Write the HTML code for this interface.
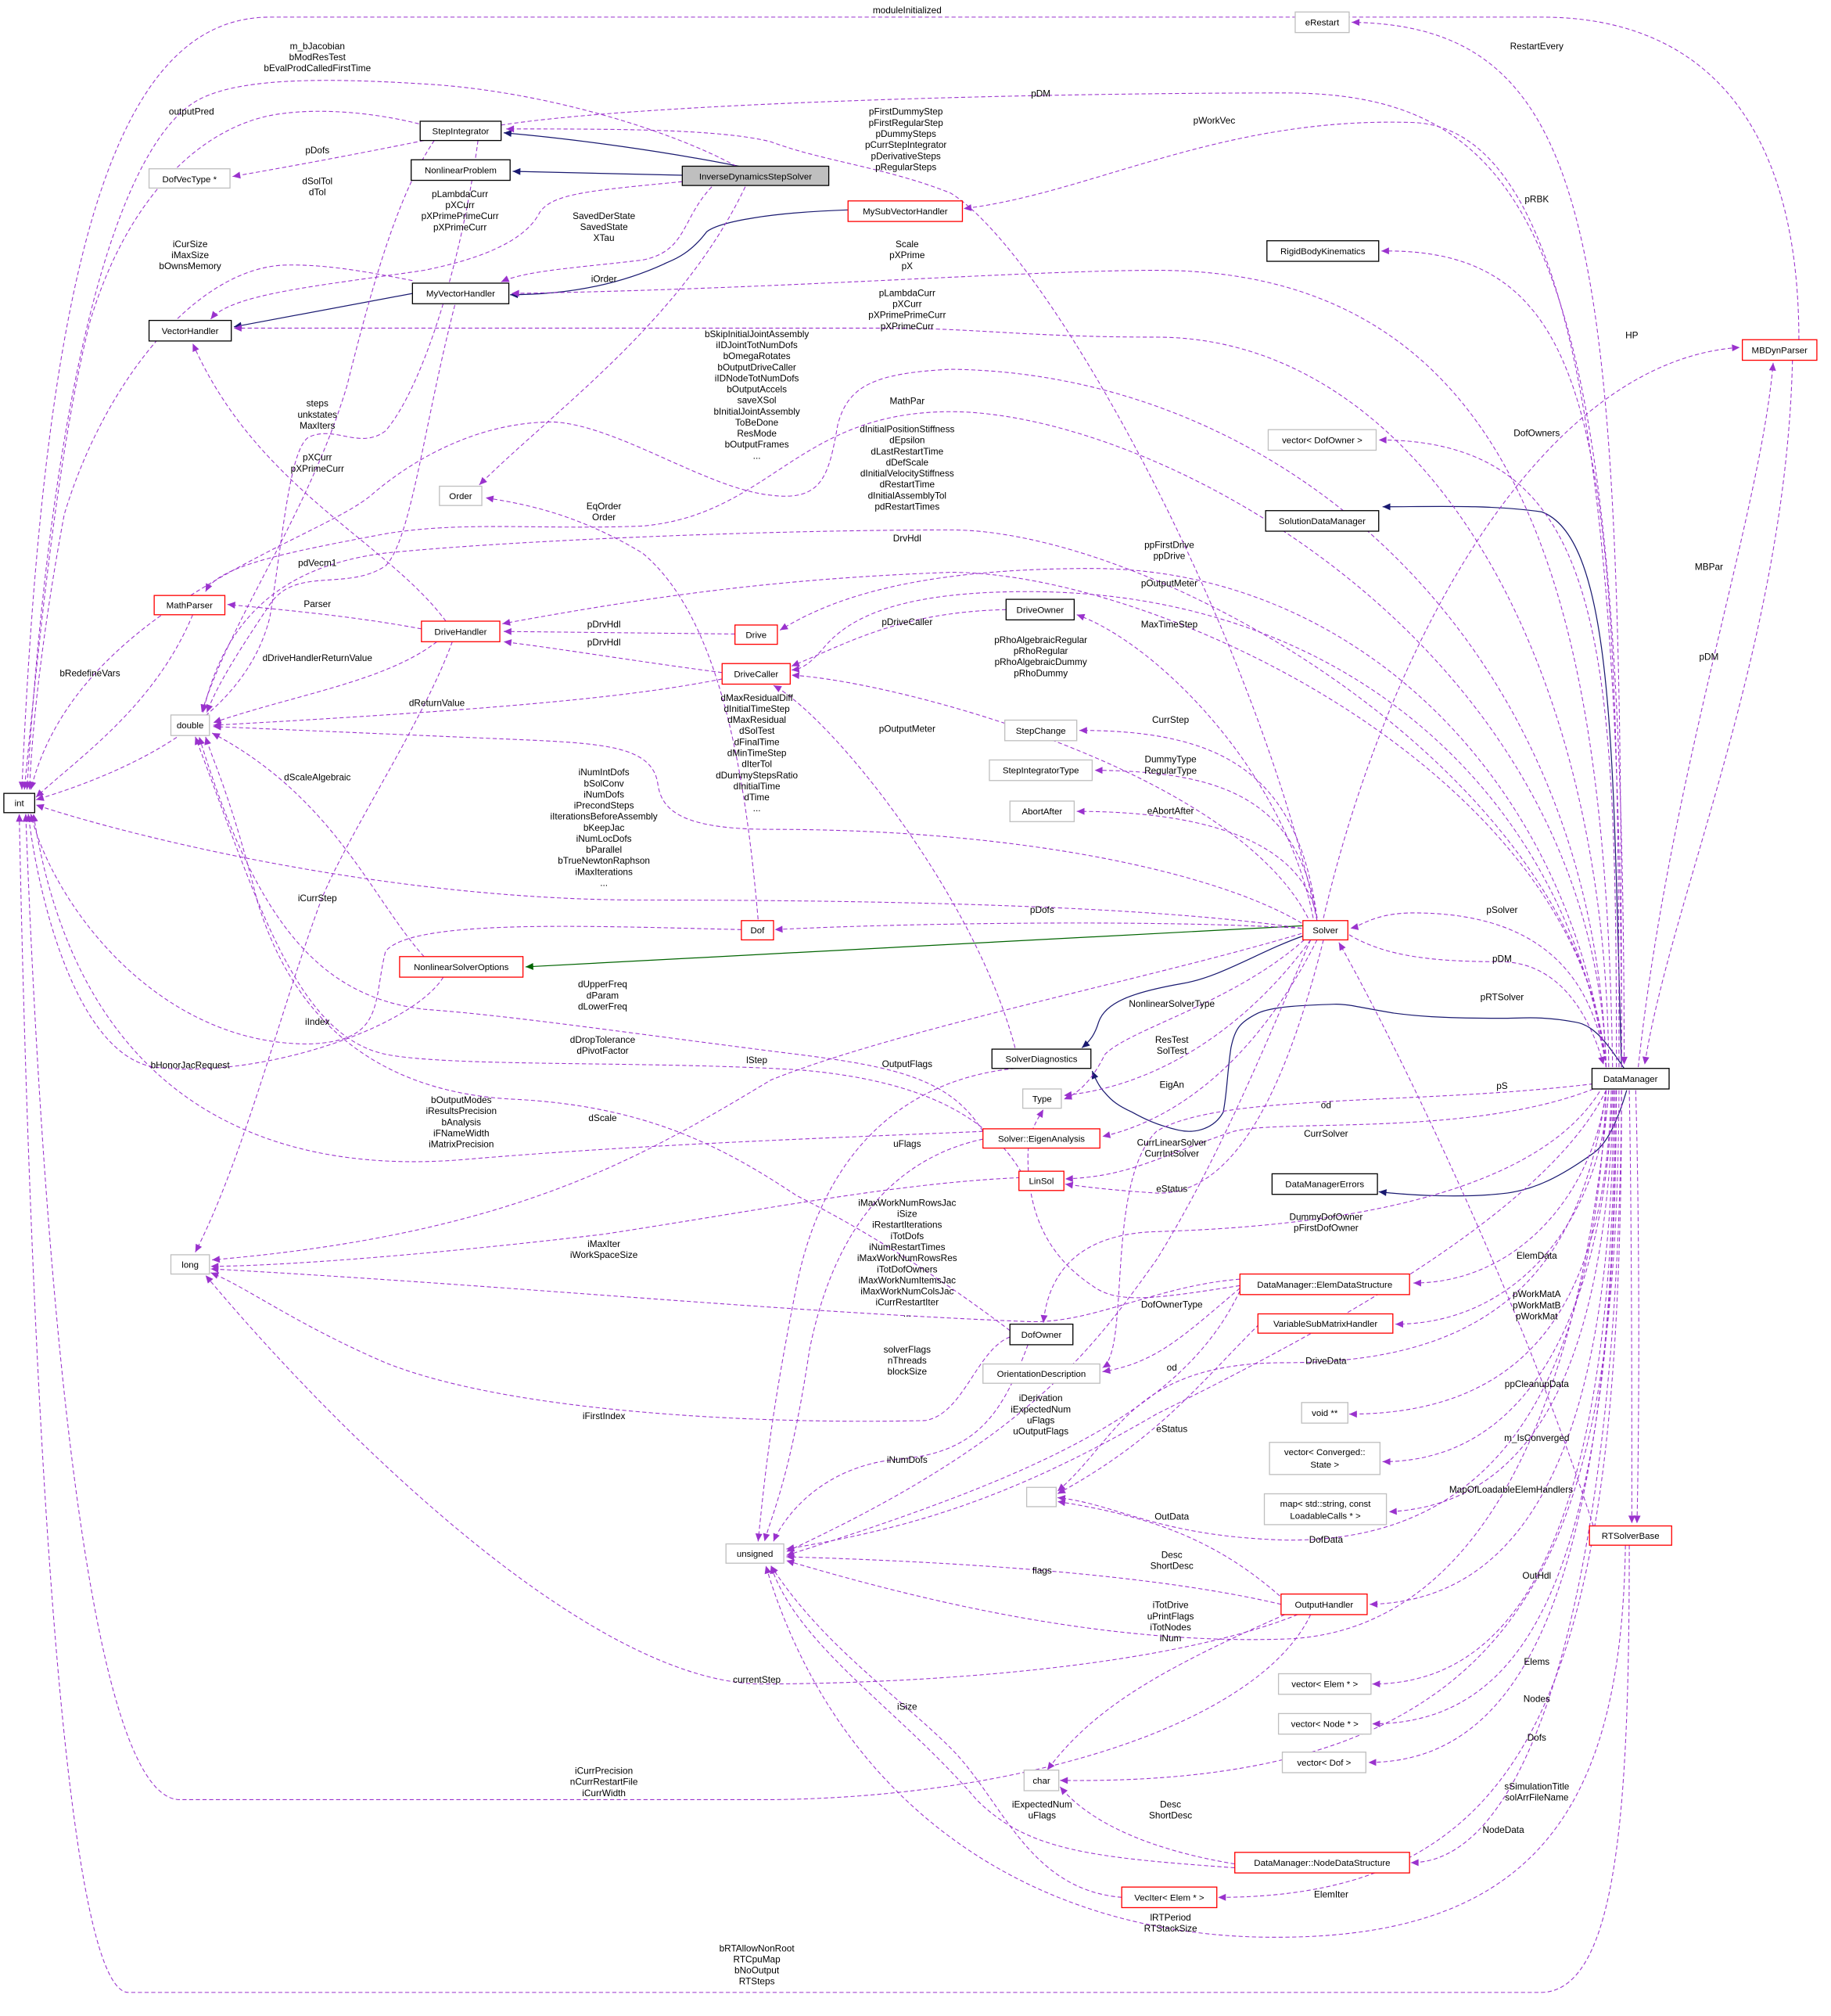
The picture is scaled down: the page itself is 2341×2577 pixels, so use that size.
<!DOCTYPE html>
<html><head><meta charset="utf-8"><style>
html,body{margin:0;padding:0;background:#fff}
svg{display:block}
text{font-family:"Liberation Sans",Helvetica,Arial,sans-serif;fill:#000}
.n text{font-size:7px}
.l{font-size:7.2px}
.e{fill:none;stroke:#9a32cd;stroke-width:0.65;stroke-dasharray:3.2,2}
.i{fill:none;stroke:#191970;stroke-width:0.75}
.g{fill:none;stroke:#006400;stroke-width:0.75}
.bk{fill:#fff;stroke:#000;stroke-width:0.8}
.rd{fill:#fff;stroke:#ff0000;stroke-width:0.8}
.gy{fill:#fff;stroke:#bfbfbf;stroke-width:0.8}
</style></head><body>
<svg width="2341" height="2577" viewBox="0 0 1425 1568" xmlns="http://www.w3.org/2000/svg">
<defs>
<marker id="a" viewBox="0 0 10 10" refX="10" refY="5" markerWidth="7" markerHeight="6" markerUnits="userSpaceOnUse" orient="auto"><path d="M0,0.5 L10,5 L0,9.5z" fill="#9a32cd"/></marker>
<marker id="b" viewBox="0 0 10 10" refX="10" refY="5" markerWidth="7" markerHeight="6" markerUnits="userSpaceOnUse" orient="auto"><path d="M0,0.5 L10,5 L0,9.5z" fill="#191970"/></marker>
<marker id="c" viewBox="0 0 10 10" refX="10" refY="5" markerWidth="7" markerHeight="6" markerUnits="userSpaceOnUse" orient="auto"><path d="M0,0.5 L10,5 L0,9.5z" fill="#006400"/></marker>
</defs>
<rect width="1425" height="1568" fill="#fff"/>

<!-- inheritance edges -->
<g marker-end="url(#b)">
<path class="i" d="M575,129 C520,118 450,108 392,103"/>
<path class="i" d="M531,136 L399,133"/>
<path class="i" d="M660,163 C600,165 560,172 550,180 C535,200 520,203 517,205 C480,222 440,229 397,229"/>
<path class="i" d="M321,228 L182,254"/>
<path class="i" d="M1014,728 C980,740 950,760 920,765 C880,772 860,780 855,795 C852,805 848,810 842,815"/>
<path class="i" d="M1264,831 C1250,810 1240,797 1226,795 C1200,790 1185,792 1169,792 C1120,792 1100,790 1085,788 C1060,784 1050,781 1040,781 C1010,782 990,783 979,788 C965,795 961,800 958,815 C955,835 955,850 952,865 C945,878 930,882 917,879 C900,875 890,870 881,865 C870,860 865,856 860,850 C855,845 852,838 850,833"/>
<path class="i" d="M1266,848 C1258,875 1250,890 1240,897 C1215,915 1195,925 1173,928 C1140,932 1100,930 1073,927"/>
<path class="i" d="M1262,830 C1255,600 1258,420 1200,398 C1160,392 1110,394 1076,394"/>
</g>
<path class="g" marker-end="url(#c)" d="M1014,720 L409,752"/>

<!-- association edges -->
<g marker-end="url(#a)">
<path class="e" d="M1400,264 C1400,100 1330,13 1200,13 L210,13 C90,13 35,200 17,614"/>
<path class="e" d="M573,129 C520,100 420,70 330,65 C250,60 180,60 150,80 C90,120 40,300 21,614"/>
<path class="e" d="M326,96 C290,87 250,84 220,88 C160,95 100,150 70,250 C45,350 30,500 19,614"/>
<path class="e" d="M335,108 C300,115 250,125 181,137"/>
<path class="e" d="M338,109 C310,150 290,220 270,300 C240,400 180,480 157,554"/>
<path class="e" d="M531,141 C460,148 430,150 420,165 C410,185 380,200 330,210 C250,222 180,228 164,248"/>
<path class="e" d="M554,145 C530,170 535,195 500,202 C450,208 410,210 390,219"/>
<path class="e" d="M580,145 C530,250 430,320 373,377"/>
<path class="e" d="M321,218 C280,210 250,205 220,206 C150,210 80,300 50,400 C35,480 25,560 23,614"/>
<path class="e" d="M372,109 C360,200 330,300 300,335 C280,350 260,330 240,340 C225,350 220,420 210,480 C190,560 100,600 28,622"/>
<path class="e" d="M354,237 C330,330 320,420 300,440 C270,460 230,440 210,470 C190,500 170,530 161,554"/>
<path class="e" d="M347,483 C300,420 200,380 150,267"/>
<path class="e" d="M328,489 C280,480 230,475 177,470"/>
<path class="e" d="M150,478 C120,550 60,590 28,620"/>
<path class="e" d="M340,499 C300,530 230,540 166,562"/>
<path class="e" d="M352,499 C330,560 270,650 250,700 C220,780 190,900 152,974"/>
<path class="e" d="M572,493 L392,491"/>
<path class="e" d="M562,523 C500,515 440,505 392,499"/>
<path class="e" d="M562,528 C500,540 420,550 166,564"/>
<path class="e" d="M590,715 C580,600 560,480 500,430 C450,400 410,392 378,387"/>
<path class="e" d="M577,723 C450,720 320,715 300,740 C290,780 300,810 240,812 C120,812 40,700 24,633"/>
<path class="e" d="M330,744 C290,700 260,620 165,570"/>
<path class="e" d="M345,760 C320,800 200,840 120,830 C60,820 30,700 22,633"/>
<path class="e" d="M765,880 C740,840 700,830 620,820 C500,805 400,790 330,785 C250,775 200,720 155,573"/>
<path class="e" d="M795,912 C770,870 720,840 620,832 C500,825 350,830 300,820 C230,805 200,700 152,573"/>
<path class="e" d="M1013,726 C900,760 700,800 600,840 C500,900 400,960 165,980"/>
<path class="e" d="M790,831 C700,840 640,900 620,1000 C600,1100 595,1150 590,1199"/>
<path class="e" d="M765,886 C700,900 650,950 630,1050 C615,1150 600,1180 595,1199"/>
<path class="e" d="M765,880 C650,885 500,890 360,902 C200,915 60,850 26,633"/>
<path class="e" d="M794,916 C700,920 600,940 470,960 C300,980 200,985 164,985"/>
<path class="e" d="M786,1040 C760,1050 750,1100 720,1105 C600,1108 400,1100 300,1060 C230,1030 190,1000 164,990"/>
<path class="e" d="M965,995 C900,1000 850,1030 800,1028 C600,1020 400,1000 164,987"/>
<path class="e" d="M800,1046 C780,1100 760,1130 700,1135 C640,1140 610,1180 602,1199"/>
<path class="e" d="M786,1035 C740,1000 680,960 620,930 C560,890 500,860 400,855 C300,850 230,800 200,700 C180,620 165,590 160,573"/>
<path class="e" d="M1250,848 C1200,950 1000,1050 900,1100 C780,1170 700,1190 612,1205"/>
<path class="e" d="M1020,731 C990,800 950,900 900,980 C850,1050 800,1120 612,1207"/>
<path class="e" d="M965,1004 C920,1100 800,1150 612,1210"/>
<path class="e" d="M997,1248 C900,1225 750,1215 612,1211"/>
<path class="e" d="M1252,848 C1230,1100 1150,1270 1000,1275 C850,1280 700,1240 612,1214"/>
<path class="e" d="M873,1476 C800,1470 780,1400 740,1360 C700,1320 640,1280 600,1218"/>
<path class="e" d="M1010,1256 C900,1300 700,1310 589,1310 C450,1305 250,1100 160,992"/>
<path class="e" d="M1020,1256 C980,1340 800,1398 600,1400 L140,1400 C60,1400 30,900 20,633"/>
<path class="e" d="M1268,1202 C1268,1400 1260,1548 1200,1550 L100,1550 C40,1550 20,900 15,633"/>
<path class="e" d="M1265,1202 C1262,1400 1200,1505 1000,1507 C800,1510 650,1400 596,1218"/>
<path class="e" d="M961,1450 C900,1440 850,1420 825,1390"/>
<path class="e" d="M961,1453 C850,1445 800,1440 760,1400 C700,1330 620,1280 600,1218"/>
<path class="e" d="M1000,1256 C900,1300 850,1330 815,1377"/>
<!-- from DataManager to right column -->
<path class="e" d="M1262,830 C1262,200 1250,20 1052,17"/>
<path class="e" d="M1260,830 C1260,350 1250,192 1075,195"/>
<path class="e" d="M1258,830 C1258,500 1250,342 1073,342"/>
<path class="e" d="M1262,830 C1262,400 1230,100 1100,95 C950,90 850,150 750,162"/>
<path class="e" d="M390,97 C500,80 800,72 1000,72 C1200,72 1264,200 1264,828"/>
<path class="e" d="M1025,716 C980,500 820,200 740,150 C690,130 640,125 600,110 C560,100 480,100 394,100"/>
<path class="e" d="M1255,830 C1250,500 1200,210 900,210 C800,210 600,225 398,228"/>
<path class="e" d="M1252,830 C1250,500 1100,262 900,262 C800,262 760,255 690,255 L182,255"/>
<path class="e" d="M1030,714 C1080,500 1200,280 1354,270"/>
<path class="e" d="M1275,830 C1300,600 1370,400 1380,282"/>
<path class="e" d="M1395,280 C1390,500 1300,700 1280,828"/>
<path class="e" d="M1250,830 C1240,500 1000,290 740,287 C680,290 660,300 652,330 C645,370 640,390 600,385 C550,380 480,330 430,328 C380,328 330,350 290,384 C250,420 60,470 24,614"/>
<path class="e" d="M1250,830 C1240,500 900,320 740,320 C620,320 600,400 500,409 C420,412 360,405 300,415 C220,430 170,440 160,460"/>
<path class="e" d="M1250,830 C1230,600 900,412 740,412 C600,412 400,420 300,430 C220,440 175,480 158,554"/>
<path class="e" d="M1250,830 C1230,600 900,445 740,445 C600,450 500,465 391,485"/>
<path class="e" d="M1250,830 C1220,600 1050,442 850,442 C700,442 640,470 607,490"/>
<path class="e" d="M1250,830 C1220,620 1050,460 800,460 C700,460 660,480 640,505 C630,516 625,520 616,521"/>
<path class="e" d="M1022,714 C1000,600 900,500 838,478"/>
<path class="e" d="M783,474 C700,476 660,500 616,518"/>
<path class="e" d="M1018,714 C960,600 700,530 616,525"/>
<path class="e" d="M790,815 C760,700 650,560 602,533"/>
<path class="e" d="M1025,714 C1010,600 950,568 840,568"/>
<path class="e" d="M1025,714 C1010,620 950,600 852,599"/>
<path class="e" d="M1025,714 C1015,660 950,631 838,631"/>
<path class="e" d="M1013,718 C950,680 800,645 600,645 C530,645 515,630 512,610 C508,580 470,578 400,575 L166,565"/>
<path class="e" d="M1013,722 C900,705 700,700 500,700 C300,700 100,650 28,626"/>
<path class="e" d="M1013,722 C900,715 700,718 603,723"/>
<path class="e" d="M1250,830 C1240,760 1200,710 1100,710 C1070,710 1060,720 1051,722"/>
<path class="e" d="M1050,727 C1080,745 1120,748 1170,748 C1220,750 1240,800 1248,828"/>
<path class="e" d="M1240,1187 C1180,1000 1080,800 1042,733"/>
<path class="e" d="M1268,848 C1270,950 1270,1100 1270,1185"/>
<path class="e" d="M1273,848 C1276,950 1276,1100 1274,1185"/>
<path class="e" d="M1015,731 C960,780 880,800 860,820 C850,840 840,850 828,855"/>
<path class="e" d="M1020,731 C970,800 900,845 828,852"/>
<path class="e" d="M1025,731 C980,820 920,870 858,884"/>
<path class="e" d="M1240,843 C1100,860 950,850 900,880 C860,920 880,1050 858,1064"/>
<path class="e" d="M1245,845 C1150,885 1000,870 960,880 C900,900 880,915 829,917"/>
<path class="e" d="M1030,731 C1000,850 960,930 900,928 C870,926 850,924 829,921"/>
<path class="e" d="M1250,840 C1200,940 1000,955 900,958 C830,960 815,1000 812,1029"/>
<path class="e" d="M1250,848 C1240,930 1180,998 1100,998"/>
<path class="e" d="M1252,848 C1245,950 1180,1030 1086,1030"/>
<path class="e" d="M965,1000 C900,1010 870,1015 850,1000 C820,980 800,950 800,900 C800,880 808,870 812,863"/>
<path class="e" d="M965,1002 C920,1040 900,1060 858,1067"/>
<path class="e" d="M1250,848 C1230,1000 1150,1060 1000,1060 C880,1060 870,1120 823,1160"/>
<path class="e" d="M1254,848 C1250,1000 1200,1100 1050,1100"/>
<path class="e" d="M980,1030 C930,1080 900,1120 823,1162"/>
<path class="e" d="M1255,848 C1250,1000 1200,1137 1076,1137"/>
<path class="e" d="M1256,848 C1250,1050 1200,1170 1081,1176"/>
<path class="e" d="M1000,1245 C950,1200 900,1180 823,1168"/>
<path class="e" d="M1250,848 C1240,1100 1150,1200 1000,1198 C900,1195 870,1170 823,1165"/>
<path class="e" d="M1256,848 C1255,1100 1200,1245 1066,1248"/>
<path class="e" d="M1257,848 C1256,1150 1200,1310 1068,1310"/>
<path class="e" d="M1258,848 C1257,1200 1200,1341 1068,1341"/>
<path class="e" d="M1258,848 C1255,1200 1200,1371 1065,1371"/>
<path class="e" d="M1260,848 C1258,1200 1200,1390 825,1385"/>
<path class="e" d="M1262,848 C1260,1200 1200,1449 1098,1449"/>
<path class="e" d="M1262,848 C1262,1300 1200,1476 948,1476"/>
</g>

<!-- nodes -->
<g class="n">
<rect class="bk" x="327" y="94" width="63" height="15"/><text x="358.5" y="104" text-anchor="middle">StepIntegrator</text>
<rect class="bk" x="320" y="124" width="77" height="16"/><text x="358.5" y="134.5" text-anchor="middle">NonlinearProblem</text>
<rect x="531" y="129" width="114" height="15" fill="#bfbfbf" stroke="#000" stroke-width="0.8"/><text x="588" y="139.5" text-anchor="middle">InverseDynamicsStepSolver</text>
<rect class="gy" x="116" y="131" width="63" height="15"/><text x="147.5" y="141.5" text-anchor="middle">DofVecType *</text>
<rect class="rd" x="660" y="156" width="89" height="16"/><text x="704.5" y="166.5" text-anchor="middle">MySubVectorHandler</text>
<rect class="bk" x="321" y="220" width="75" height="16"/><text x="358.5" y="230.5" text-anchor="middle">MyVectorHandler</text>
<rect class="bk" x="116" y="249" width="64" height="16"/><text x="148" y="259.5" text-anchor="middle">VectorHandler</text>
<rect class="gy" x="342" y="378" width="33" height="15"/><text x="358.5" y="388" text-anchor="middle">Order</text>
<rect class="rd" x="120" y="463" width="55" height="15"/><text x="147.5" y="473" text-anchor="middle">MathParser</text>
<rect class="rd" x="328" y="483" width="61" height="16"/><text x="358.5" y="493.5" text-anchor="middle">DriveHandler</text>
<rect class="rd" x="572" y="486" width="33" height="15"/><text x="588.5" y="496" text-anchor="middle">Drive</text>
<rect class="rd" x="562" y="516" width="53" height="16"/><text x="588.5" y="526.5" text-anchor="middle">DriveCaller</text>
<rect class="bk" x="783" y="466" width="53" height="16"/><text x="809.5" y="476.5" text-anchor="middle">DriveOwner</text>
<rect class="gy" x="133" y="556" width="30" height="16"/><text x="148" y="566.5" text-anchor="middle">double</text>
<rect class="bk" x="3" y="617" width="24" height="15"/><text x="15" y="627" text-anchor="middle">int</text>
<rect class="gy" x="782" y="560" width="56" height="16"/><text x="810" y="570.5" text-anchor="middle">StepChange</text>
<rect class="gy" x="770" y="591" width="80" height="16"/><text x="810" y="601.5" text-anchor="middle">StepIntegratorType</text>
<rect class="gy" x="786" y="623" width="50" height="16"/><text x="811" y="633.5" text-anchor="middle">AbortAfter</text>
<rect class="rd" x="577" y="716" width="25" height="15"/><text x="589.5" y="726" text-anchor="middle">Dof</text>
<rect class="rd" x="311" y="744" width="96" height="16"/><text x="359" y="754.5" text-anchor="middle">NonlinearSolverOptions</text>
<rect class="rd" x="1014" y="716" width="35" height="15"/><text x="1031.5" y="726" text-anchor="middle">Solver</text>
<rect class="bk" x="772" y="816" width="77" height="15"/><text x="810.5" y="826" text-anchor="middle">SolverDiagnostics</text>
<rect class="gy" x="796" y="847" width="30" height="15"/><text x="811" y="857" text-anchor="middle">Type</text>
<rect class="rd" x="765" y="878" width="91" height="15"/><text x="810.5" y="888" text-anchor="middle">Solver::EigenAnalysis</text>
<rect class="rd" x="793" y="911" width="35" height="15"/><text x="810.5" y="921" text-anchor="middle">LinSol</text>
<rect class="gy" x="133" y="976" width="30" height="15"/><text x="148" y="986" text-anchor="middle">long</text>
<rect class="bk" x="1239" y="831" width="60" height="16"/><text x="1269" y="841.5" text-anchor="middle">DataManager</text>
<rect class="bk" x="990" y="913" width="82" height="16"/><text x="1031" y="923.5" text-anchor="middle">DataManagerErrors</text>
<rect class="rd" x="965" y="991" width="132" height="16"/><text x="1031" y="1001.5" text-anchor="middle">DataManager::ElemDataStructure</text>
<rect class="rd" x="979" y="1022" width="105" height="15"/><text x="1031.5" y="1032" text-anchor="middle">VariableSubMatrixHandler</text>
<rect class="bk" x="786" y="1030" width="49" height="16"/><text x="810.5" y="1040.5" text-anchor="middle">DofOwner</text>
<rect class="gy" x="765" y="1061" width="91" height="15"/><text x="810.5" y="1071" text-anchor="middle">OrientationDescription</text>
<rect class="gy" x="1013" y="1091" width="36" height="16"/><text x="1031" y="1101.5" text-anchor="middle">void **</text>
<rect class="gy" x="988" y="1122" width="86" height="25"/><text x="1031" y="1132" text-anchor="middle">vector&lt; Converged::</text><text x="1031" y="1141.5" text-anchor="middle">State &gt;</text>
<rect class="gy" x="799" y="1157" width="23" height="15"/>
<rect class="gy" x="984" y="1162" width="95" height="24"/><text x="1031.5" y="1172" text-anchor="middle">map&lt; std::string, const</text><text x="1031.5" y="1181.5" text-anchor="middle">LoadableCalls * &gt;</text>
<rect class="rd" x="1237" y="1187" width="64" height="15"/><text x="1269" y="1197" text-anchor="middle">RTSolverBase</text>
<rect class="gy" x="565" y="1201" width="45" height="15"/><text x="587.5" y="1211" text-anchor="middle">unsigned</text>
<rect class="rd" x="997" y="1240" width="67" height="16"/><text x="1030.5" y="1250.5" text-anchor="middle">OutputHandler</text>
<rect class="gy" x="995" y="1302" width="72" height="16"/><text x="1031" y="1312.5" text-anchor="middle">vector&lt; Elem * &gt;</text>
<rect class="gy" x="995" y="1333" width="72" height="16"/><text x="1031" y="1343.5" text-anchor="middle">vector&lt; Node * &gt;</text>
<rect class="gy" x="998" y="1363" width="65" height="16"/><text x="1030.5" y="1373.5" text-anchor="middle">vector&lt; Dof &gt;</text>
<rect class="gy" x="797" y="1377" width="27" height="16"/><text x="810.5" y="1387.5" text-anchor="middle">char</text>
<rect class="rd" x="961" y="1441" width="136" height="16"/><text x="1029" y="1451.5" text-anchor="middle">DataManager::NodeDataStructure</text>
<rect class="rd" x="873" y="1468" width="74" height="16"/><text x="910" y="1478.5" text-anchor="middle">VecIter&lt; Elem * &gt;</text>
<rect class="gy" x="1008" y="9" width="42" height="16"/><text x="1029" y="19.5" text-anchor="middle">eRestart</text>
<rect class="bk" x="986" y="187" width="87" height="16"/><text x="1029.5" y="197.5" text-anchor="middle">RigidBodyKinematics</text>
<rect class="rd" x="1356" y="264" width="58" height="16"/><text x="1385" y="274.5" text-anchor="middle">MBDynParser</text>
<rect class="gy" x="987" y="334" width="84" height="16"/><text x="1029" y="344.5" text-anchor="middle">vector&lt; DofOwner &gt;</text>
<rect class="bk" x="985" y="397" width="88" height="16"/><text x="1029" y="407.5" text-anchor="middle">SolutionDataManager</text>
</g>

<!-- edge labels -->
<g class="l" text-anchor="middle">
<text x="706" y="10">moduleInitialized</text>
<text x="247" y="38"><tspan x="247">m_bJacobian</tspan><tspan x="247" dy="8.6">bModResTest</tspan><tspan x="247" dy="8.6">bEvalProdCalledFirstTime</tspan></text>
<text x="149" y="89">outputPred</text>
<text x="810" y="75">pDM</text>
<text x="705" y="89"><tspan x="705">pFirstDummyStep</tspan><tspan x="705" dy="8.6">pFirstRegularStep</tspan><tspan x="705" dy="8.6">pDummySteps</tspan><tspan x="705" dy="8.6">pCurrStepIntegrator</tspan><tspan x="705" dy="8.6">pDerivativeSteps</tspan><tspan x="705" dy="8.6">pRegularSteps</tspan></text>
<text x="1196" y="38">RestartEvery</text>
<text x="945" y="96">pWorkVec</text>
<text x="247" y="119">pDofs</text>
<text x="247" y="143"><tspan x="247">dSolTol</tspan><tspan x="247" dy="8.6">dTol</tspan></text>
<text x="358" y="153"><tspan x="358">pLambdaCurr</tspan><tspan x="358" dy="8.6">pXCurr</tspan><tspan x="358" dy="8.6">pXPrimePrimeCurr</tspan><tspan x="358" dy="8.6">pXPrimeCurr</tspan></text>
<text x="470" y="170"><tspan x="470">SavedDerState</tspan><tspan x="470" dy="8.6">SavedState</tspan><tspan x="470" dy="8.6">XTau</tspan></text>
<text x="1196" y="157">pRBK</text>
<text x="148" y="192"><tspan x="148">iCurSize</tspan><tspan x="148" dy="8.6">iMaxSize</tspan><tspan x="148" dy="8.6">bOwnsMemory</tspan></text>
<text x="706" y="192"><tspan x="706">Scale</tspan><tspan x="706" dy="8.6">pXPrime</tspan><tspan x="706" dy="8.6">pX</tspan></text>
<text x="470" y="219">iOrder</text>
<text x="706" y="230"><tspan x="706">pLambdaCurr</tspan><tspan x="706" dy="8.6">pXCurr</tspan><tspan x="706" dy="8.6">pXPrimePrimeCurr</tspan><tspan x="706" dy="8.6">pXPrimeCurr</tspan></text>
<text x="1270" y="263">HP</text>
<text x="589" y="262"><tspan x="589">bSkipInitialJointAssembly</tspan><tspan x="589" dy="8.6">iIDJointTotNumDofs</tspan><tspan x="589" dy="8.6">bOmegaRotates</tspan><tspan x="589" dy="8.6">bOutputDriveCaller</tspan><tspan x="589" dy="8.6">iIDNodeTotNumDofs</tspan><tspan x="589" dy="8.6">bOutputAccels</tspan><tspan x="589" dy="8.6">saveXSol</tspan><tspan x="589" dy="8.6">bInitialJointAssembly</tspan><tspan x="589" dy="8.6">ToBeDone</tspan><tspan x="589" dy="8.6">ResMode</tspan><tspan x="589" dy="8.6">bOutputFrames</tspan><tspan x="589" dy="8.6">...</tspan></text>
<text x="247" y="316"><tspan x="247">steps</tspan><tspan x="247" dy="8.6">unkstates</tspan><tspan x="247" dy="8.6">MaxIters</tspan></text>
<text x="706" y="314">MathPar</text>
<text x="1196" y="339">DofOwners</text>
<text x="706" y="336"><tspan x="706">dInitialPositionStiffness</tspan><tspan x="706" dy="8.6">dEpsilon</tspan><tspan x="706" dy="8.6">dLastRestartTime</tspan><tspan x="706" dy="8.6">dDefScale</tspan><tspan x="706" dy="8.6">dInitialVelocityStiffness</tspan><tspan x="706" dy="8.6">dRestartTime</tspan><tspan x="706" dy="8.6">dInitialAssemblyTol</tspan><tspan x="706" dy="8.6">pdRestartTimes</tspan></text>
<text x="247" y="358"><tspan x="247">pXCurr</tspan><tspan x="247" dy="8.6">pXPrimeCurr</tspan></text>
<text x="470" y="396"><tspan x="470">EqOrder</tspan><tspan x="470" dy="8.6">Order</tspan></text>
<text x="706" y="421">DrvHdl</text>
<text x="910" y="426"><tspan x="910">ppFirstDrive</tspan><tspan x="910" dy="8.6">ppDrive</tspan></text>
<text x="1330" y="443">MBPar</text>
<text x="247" y="440">pdVecm1</text>
<text x="910" y="456">pOutputMeter</text>
<text x="470" y="488">pDrvHdl</text>
<text x="470" y="502">pDrvHdl</text>
<text x="247" y="472">Parser</text>
<text x="910" y="488">MaxTimeStep</text>
<text x="706" y="486">pDriveCaller</text>
<text x="810" y="500"><tspan x="810">pRhoAlgebraicRegular</tspan><tspan x="810" dy="8.6">pRhoRegular</tspan><tspan x="810" dy="8.6">pRhoAlgebraicDummy</tspan><tspan x="810" dy="8.6">pRhoDummy</tspan></text>
<text x="1330" y="513">pDM</text>
<text x="247" y="514">dDriveHandlerReturnValue</text>
<text x="70" y="526">bRedefineVars</text>
<text x="340" y="549">dReturnValue</text>
<text x="589" y="545"><tspan x="589">dMaxResidualDiff</tspan><tspan x="589" dy="8.6">dInitialTimeStep</tspan><tspan x="589" dy="8.6">dMaxResidual</tspan><tspan x="589" dy="8.6">dSolTest</tspan><tspan x="589" dy="8.6">dFinalTime</tspan><tspan x="589" dy="8.6">dMinTimeStep</tspan><tspan x="589" dy="8.6">dIterTol</tspan><tspan x="589" dy="8.6">dDummyStepsRatio</tspan><tspan x="589" dy="8.6">dInitialTime</tspan><tspan x="589" dy="8.6">dTime</tspan><tspan x="589" dy="8.6">...</tspan></text>
<text x="706" y="569">pOutputMeter</text>
<text x="911" y="562">CurrStep</text>
<text x="911" y="593"><tspan x="911">DummyType</tspan><tspan x="911" dy="8.6">RegularType</tspan></text>
<text x="247" y="607">dScaleAlgebraic</text>
<text x="470" y="603"><tspan x="470">iNumIntDofs</tspan><tspan x="470" dy="8.6">bSolConv</tspan><tspan x="470" dy="8.6">iNumDofs</tspan><tspan x="470" dy="8.6">iPrecondSteps</tspan><tspan x="470" dy="8.6">iIterationsBeforeAssembly</tspan><tspan x="470" dy="8.6">bKeepJac</tspan><tspan x="470" dy="8.6">iNumLocDofs</tspan><tspan x="470" dy="8.6">bParallel</tspan><tspan x="470" dy="8.6">bTrueNewtonRaphson</tspan><tspan x="470" dy="8.6">iMaxIterations</tspan><tspan x="470" dy="8.6">...</tspan></text>
<text x="911" y="633">eAbortAfter</text>
<text x="247" y="701">iCurrStep</text>
<text x="811" y="710">pDofs</text>
<text x="1169" y="710">pSolver</text>
<text x="1169" y="748">pDM</text>
<text x="1169" y="778">pRTSolver</text>
<text x="912" y="783">NonlinearSolverType</text>
<text x="469" y="768"><tspan x="469">dUpperFreq</tspan><tspan x="469" dy="8.6">dParam</tspan><tspan x="469" dy="8.6">dLowerFreq</tspan></text>
<text x="247" y="797">iIndex</text>
<text x="469" y="811"><tspan x="469">dDropTolerance</tspan><tspan x="469" dy="8.6">dPivotFactor</tspan></text>
<text x="912" y="811"><tspan x="912">ResTest</tspan><tspan x="912" dy="8.6">SolTest</tspan></text>
<text x="589" y="827">lStep</text>
<text x="706" y="830">OutputFlags</text>
<text x="148" y="831">bHonorJacRequest</text>
<text x="912" y="846">EigAn</text>
<text x="1169" y="847">pS</text>
<text x="359" y="858"><tspan x="359">bOutputModes</tspan><tspan x="359" dy="8.6">iResultsPrecision</tspan><tspan x="359" dy="8.6">bAnalysis</tspan><tspan x="359" dy="8.6">iFNameWidth</tspan><tspan x="359" dy="8.6">iMatrixPrecision</tspan></text>
<text x="1032" y="862">od</text>
<text x="469" y="872">dScale</text>
<text x="1032" y="884">CurrSolver</text>
<text x="912" y="891"><tspan x="912">CurrLinearSolver</tspan><tspan x="912" dy="8.6">CurrIntSolver</tspan></text>
<text x="706" y="892">uFlags</text>
<text x="912" y="927">eStatus</text>
<text x="706" y="938"><tspan x="706">iMaxWorkNumRowsJac</tspan><tspan x="706" dy="8.6">iSize</tspan><tspan x="706" dy="8.6">iRestartIterations</tspan><tspan x="706" dy="8.6">iTotDofs</tspan><tspan x="706" dy="8.6">iNumRestartTimes</tspan><tspan x="706" dy="8.6">iMaxWorkNumRowsRes</tspan><tspan x="706" dy="8.6">iTotDofOwners</tspan><tspan x="706" dy="8.6">iMaxWorkNumItemsJac</tspan><tspan x="706" dy="8.6">iMaxWorkNumColsJac</tspan><tspan x="706" dy="8.6">iCurrRestartIter</tspan><tspan x="706" dy="8.6">...</tspan></text>
<text x="1032" y="949"><tspan x="1032">DummyDofOwner</tspan><tspan x="1032" dy="8.6">pFirstDofOwner</tspan></text>
<text x="470" y="970"><tspan x="470">iMaxIter</tspan><tspan x="470" dy="8.6">iWorkSpaceSize</tspan></text>
<text x="1196" y="979">ElemData</text>
<text x="1196" y="1009"><tspan x="1196">pWorkMatA</tspan><tspan x="1196" dy="8.6">pWorkMatB</tspan><tspan x="1196" dy="8.6">pWorkMat</tspan></text>
<text x="912" y="1017">DofOwnerType</text>
<text x="706" y="1052"><tspan x="706">solverFlags</tspan><tspan x="706" dy="8.6">nThreads</tspan><tspan x="706" dy="8.6">blockSize</tspan></text>
<text x="1032" y="1061">DriveData</text>
<text x="912" y="1066">od</text>
<text x="1196" y="1079">ppCleanupData</text>
<text x="810" y="1090"><tspan x="810">iDerivation</tspan><tspan x="810" dy="8.6">iExpectedNum</tspan><tspan x="810" dy="8.6">uFlags</tspan><tspan x="810" dy="8.6">uOutputFlags</tspan></text>
<text x="470" y="1104">iFirstIndex</text>
<text x="912" y="1114">eStatus</text>
<text x="1196" y="1121">m_IsConverged</text>
<text x="706" y="1138">iNumDofs</text>
<text x="1176" y="1161">MapOfLoadableElemHandlers</text>
<text x="912" y="1182">OutData</text>
<text x="1032" y="1200">DofData</text>
<text x="912" y="1212"><tspan x="912">Desc</tspan><tspan x="912" dy="8.6">ShortDesc</tspan></text>
<text x="811" y="1224">flags</text>
<text x="1196" y="1228">OutHdl</text>
<text x="911" y="1251"><tspan x="911">iTotDrive</tspan><tspan x="911" dy="8.6">uPrintFlags</tspan><tspan x="911" dy="8.6">iTotNodes</tspan><tspan x="911" dy="8.6">iNum</tspan></text>
<text x="1196" y="1295">Elems</text>
<text x="589" y="1309">currentStep</text>
<text x="1196" y="1324">Nodes</text>
<text x="706" y="1330">iSize</text>
<text x="1196" y="1354">Dofs</text>
<text x="470" y="1380"><tspan x="470">iCurrPrecision</tspan><tspan x="470" dy="8.6">nCurrRestartFile</tspan><tspan x="470" dy="8.6">iCurrWidth</tspan></text>
<text x="1196" y="1392"><tspan x="1196">sSimulationTitle</tspan><tspan x="1196" dy="8.6">solArrFileName</tspan></text>
<text x="811" y="1406"><tspan x="811">iExpectedNum</tspan><tspan x="811" dy="8.6">uFlags</tspan></text>
<text x="911" y="1406"><tspan x="911">Desc</tspan><tspan x="911" dy="8.6">ShortDesc</tspan></text>
<text x="1170" y="1426">NodeData</text>
<text x="1036" y="1476">ElemIter</text>
<text x="911" y="1494"><tspan x="911">lRTPeriod</tspan><tspan x="911" dy="8.6">RTStackSize</tspan></text>
<text x="589" y="1518"><tspan x="589">bRTAllowNonRoot</tspan><tspan x="589" dy="8.6">RTCpuMap</tspan><tspan x="589" dy="8.6">bNoOutput</tspan><tspan x="589" dy="8.6">RTSteps</tspan></text>
</g>
</svg>
</body></html>
